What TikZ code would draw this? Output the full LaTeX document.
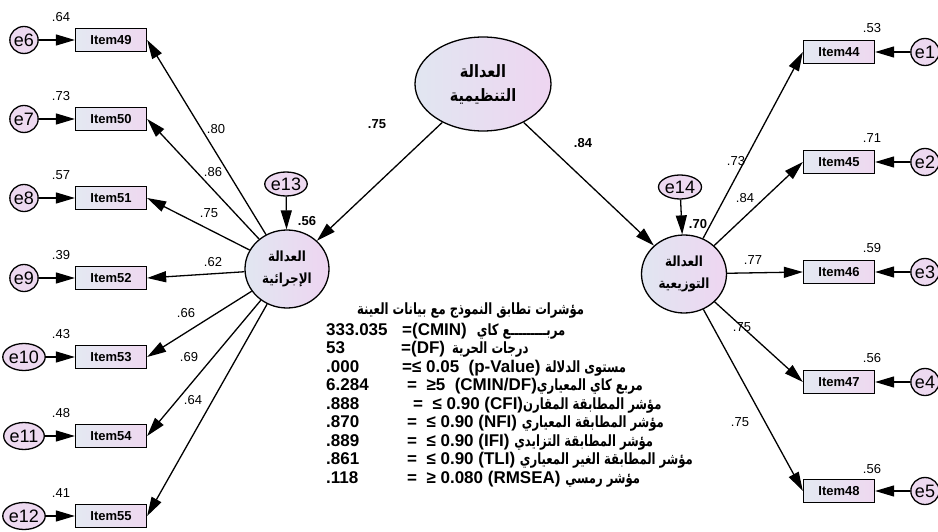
\documentclass[tikz,border=0pt]{standalone}
\usepackage{fontspec}
\setmainfont{Liberation Sans}
\newfontfamily\arabicfont[Script=Arabic,FakeStretch=0.85]{DejaVu Sans}
\newfontfamily\fitfont[Script=Arabic,FakeStretch=0.75]{DejaVu Sans}
\TeXXeTstate=1
\usetikzlibrary{arrows.meta,shapes.geometric}

\definecolor{latL}{HTML}{E1E6F1}
\definecolor{latR}{HTML}{EED5F1}
\definecolor{boxL}{HTML}{E4E9F2}
\definecolor{boxR}{HTML}{EED8F0}
\definecolor{errfill}{HTML}{EDD9F0}

\newcommand{\ar}[1]{{\arabicfont\beginR #1\endR}}
\newcommand{\fa}[1]{{\fitfont\bfseries\fontsize{15.5}{16}\selectfont\beginR #1\endR}}

\begin{document}
\begin{tikzpicture}[x=1pt,y=-1pt,
    latent/.style={ellipse, draw, line width=1.3pt, left color=latL, right color=latR, align=center, inner sep=0pt, font=\arabicfont\bfseries\fontsize{14}{22}\selectfont},
    item/.style={rectangle, draw, line width=1.3pt, left color=boxL, right color=boxR, minimum width=71pt, minimum height=23pt, inner sep=0pt, font=\bfseries\fontsize{13}{14}\selectfont},
    err/.style={ellipse, draw, line width=1.3pt, fill=errfill, minimum width=28pt, minimum height=27pt, inner sep=0pt, font=\fontsize{18}{18}\selectfont},
    coef/.style={font=\fontsize{13}{14}\selectfont, inner sep=1pt},
    bcoef/.style={font=\bfseries\fontsize{13}{14}\selectfont, inner sep=1pt},
    fitrow/.style={anchor=west, inner sep=0pt, font=\bfseries\fontsize{17}{18}\selectfont},
    myarrow/.style={-{Triangle[length=19pt,width=11pt]}, line width=1.3pt},
]
\useasboundingbox (0,0) rectangle (938,532);

% latent variables
\node[latent, minimum width=136pt, minimum height=94pt, font=\arabicfont\bfseries\fontsize{17}{24}\selectfont] (org) at (483,84) {\ar{العدالة}\\\ar{التنظيمية}};
\node[latent, minimum width=84pt, minimum height=78pt] (proc) at (287,269) {\ar{العدالة}\\\ar{الإجرائية}};
\node[latent, minimum width=85pt, minimum height=78pt] (dist) at (684,274) {\ar{العدالة}\\\ar{التوزيعية}};

% residuals of the latent variables
\node[err, minimum width=42pt, minimum height=24pt] (e13) at (286,184) {e13};
\node[err, minimum width=43pt, minimum height=24pt] (e14) at (680,187) {e14};

% left items
\node[item] (i49) at (111,40) {Item49};
\node[item] (i50) at (111,119) {Item50};
\node[item] (i51) at (111,198) {Item51};
\node[item] (i52) at (111,278) {Item52};
\node[item] (i53) at (111,357) {Item53};
\node[item] (i54) at (111,436) {Item54};
\node[item] (i55) at (111,516) {Item55};

\node[err] (e6) at (24,40) {e6};
\node[err] (e7) at (24,119) {e7};
\node[err] (e8) at (24,198) {e8};
\node[err] (e9) at (24,278) {e9};
\node[err] (e10) at (24,357) {e10};
\node[err] (e11) at (24,436) {e11};
\node[err] (e12) at (24,516) {e12};

% right items
\node[item] (i44) at (839,52) {Item44};
\node[item] (i45) at (839,162) {Item45};
\node[item] (i46) at (839,272) {Item46};
\node[item] (i47) at (839,382) {Item47};
\node[item] (i48) at (839,491) {Item48};

\node[err] (e1) at (925,52) {e1};
\node[err] (e2) at (925,162) {e2};
\node[err] (e3) at (925,272) {e3};
\node[err] (e4) at (925,382) {e4};
\node[err] (e5) at (925,491) {e5};

% paths
\draw[myarrow] (org) -- (proc);
\draw[myarrow] (org) -- (dist);
\draw[myarrow] (e13) -- (proc);
\draw[myarrow] (e14) -- (dist);

\foreach \i in {49,...,55}
  \draw[myarrow] (proc) -- (i\i.east);
\foreach \i in {44,...,48}
  \draw[myarrow] (dist) -- (i\i.west);

\foreach \e/\i in {6/49,7/50,8/51,9/52,10/53,11/54,12/55,1/44,2/45,3/46,4/47,5/48}
  \draw[myarrow] (e\e) -- (i\i);

% estimates
\node[bcoef] (b75) at (377,124) {.75};
\node[bcoef] (b84) at (583,143) {.84};
\node[bcoef] (r56) at (307,221) {.56};
\node[bcoef] (r70) at (698,224) {.70};

\node[coef] (l80) at (216,129) {.80};
\node[coef] (l86) at (213,172) {.86};
\node[coef] (l75) at (209,213) {.75};
\node[coef] (l62) at (213,262) {.62};
\node[coef] (l66) at (186,313) {.66};
\node[coef] (l69) at (189,357) {.69};
\node[coef] (l64) at (193,400) {.64};

\node[coef] (r73) at (736,161) {.73};
\node[coef] (r84) at (745,198) {.84};
\node[coef] (r77) at (753,260) {.77};
\node[coef] (r75a) at (742,327) {.75};
\node[coef] (r75b) at (740,422) {.75};

\node[coef] (q49) at (61,17) {.64};
\node[coef] (q50) at (61,96) {.73};
\node[coef] (q51) at (61,175) {.57};
\node[coef] (q52) at (61,255) {.39};
\node[coef] (q53) at (61,334) {.43};
\node[coef] (q54) at (61,413) {.48};
\node[coef] (q55) at (61,493) {.41};

\node[coef] (q44) at (872,28) {.53};
\node[coef] (q45) at (872,138) {.71};
\node[coef] (q46) at (872,248) {.59};
\node[coef] (q47) at (872,358) {.56};
\node[coef] (q48) at (872,469) {.56};

% model fit
\node[fitrow] (fit0) at (357,311) {\fa{مؤشرات تطابق النموذج مع بيانات العينة}};
\node[fitrow] (fit1) at (326,331) {\makebox[76pt][l]{333.035}=(CMIN)\hspace{10pt}\fa{مربـــــــــع كاي}};
\node[fitrow] (fit2) at (326,349.5) {\makebox[75pt][l]{53}=(DF)\hspace{7pt}\fa{درجات الحرية}};
\node[fitrow] (fit3) at (326,368) {\makebox[76pt][l]{.000}=≤ 0.05\ \ (p-Value)\ \fa{مستوى الدلالة}};
\node[fitrow] (fit4) at (326,386.5) {\makebox[81pt][l]{6.284}=\ \ ≥5\ \ (CMIN/DF)\fa{مربع كاي المعياري}};
\node[fitrow] (fit5) at (326,405) {\makebox[87pt][l]{.888}=\ \ ≤ 0.90 (CFI)\fa{مؤشر المطابقة المقارن}};
\node[fitrow] (fit6) at (326,423.5) {\makebox[81pt][l]{.870}=\ \ ≤ 0.90 (NFI)\ \fa{مؤشر المطابقة المعياري}};
\node[fitrow] (fit7) at (326,442) {\makebox[81pt][l]{.889}=\ \ ≤ 0.90 (IFI)\ \fa{مؤشر المطابقة التزايدي}};
\node[fitrow] (fit8) at (326,460.5) {\makebox[81pt][l]{.861}=\ \ ≤ 0.90 (TLI)\ \fa{مؤشر المطابقة الغير المعياري}};
\node[fitrow] (fit9) at (326,479) {\makebox[81pt][l]{.118}=\ \ ≥ 0.080 (RMSEA)\ \fa{مؤشر رمسي}};
\end{tikzpicture}
\end{document}
